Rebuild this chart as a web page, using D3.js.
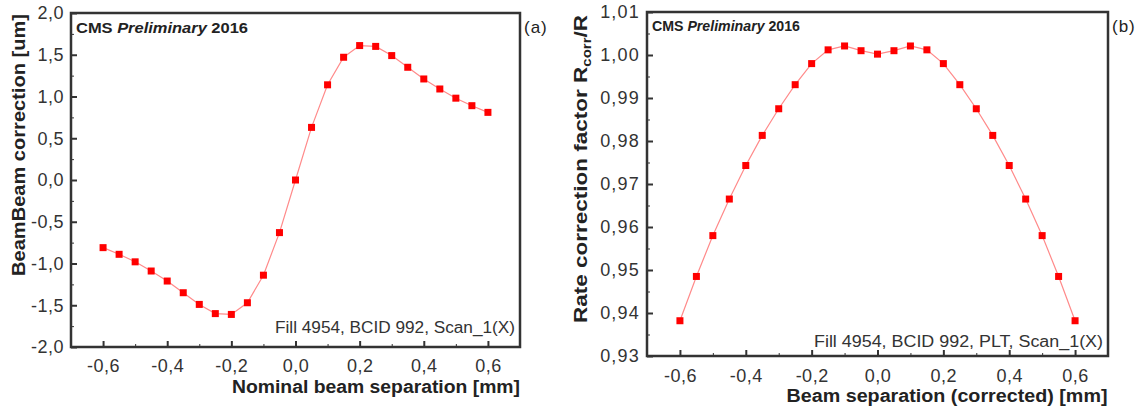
<!DOCTYPE html>
<html>
  <head>
    <meta charset="utf-8">
    <style>
      body { margin: 0; background: #fff; }
      svg { font-family: "Liberation Sans", Arial, sans-serif; }
      .tick text { fill: #333; font-size: 18px; letter-spacing: 0.5px; }
      .axis path, .axis line { stroke: #333; }
      .title { font-weight: bold; font-size: 18px; fill: #222; }
    </style>
  </head>
  <body>
    <script src="https://d3js.org/d3.v7.min.js"></script>
    <script>
      // separation values (mm), same for both panels
      const separation = [-0.6, -0.55, -0.5, -0.45, -0.4, -0.35, -0.3, -0.25, -0.2, -0.15, -0.1, -0.05,
        0, 0.05, 0.1, 0.15, 0.2, 0.25, 0.3, 0.35, 0.4, 0.45, 0.5, 0.55, 0.6]
      // panel (a): beam-beam correction [um]
      const bbCorrection = [-0.81, -0.89, -0.98, -1.09, -1.21, -1.35, -1.49, -1.6, -1.61, -1.47, -1.14, -0.63,
        0, 0.63, 1.14, 1.47, 1.61, 1.6, 1.49, 1.35, 1.21, 1.09, 0.98, 0.89, 0.81]
      // panel (b): rate correction factor
      const rateFactor = [0.9382, 0.9485, 0.958, 0.9665, 0.9743, 0.9813, 0.9875, 0.9931, 0.998, 1.0012, 1.0021, 1.001,
        1.0002, 1.001, 1.0021, 1.0012, 0.998, 0.9931, 0.9875, 0.9813, 0.9743, 0.9665, 0.958, 0.9485, 0.9382]

      const xTicks = [-0.6, -0.4, -0.2, 0, 0.2, 0.4, 0.6]
      const xMinor = [-0.5, -0.3, -0.1, 0.1, 0.3, 0.5]
      const yTicksA = [-2, -1.5, -1, -0.5, 0, 0.5, 1, 1.5, 2]
      const yMinorA = [-1.75, -1.25, -0.75, -0.25, 0.25, 0.75, 1.25, 1.75]
      const yTicksB = [0.93, 0.94, 0.95, 0.96, 0.97, 0.98, 0.99, 1.00, 1.01]
      const yMinorB = [0.935, 0.945, 0.955, 0.965, 0.975, 0.985, 0.995, 1.005]

      const svg = d3.select("body").append("svg")
        .attr("width", 1148)
        .attr("height", 412)

      const comma = (n) => (d) => d.toFixed(n).replace(".", ",")

      function drawPanel(p) {
        const g = svg.append("g").attr("transform", "translate(" + p.left + "," + p.top + ")")
        const x = d3.scaleLinear().domain([-0.7, 0.7]).range([0, p.w])
        const y = d3.scaleLinear().domain(p.yDomain).range([p.h, 0])

        // minor ticks
        g.append("g").attr("class", "axis")
          .attr("transform", "translate(0," + p.h + ")")
          .call(d3.axisBottom(x).tickValues(xMinor).tickSize(-3).tickFormat(""))
          .select(".domain").remove()
        g.append("g").attr("class", "axis")
          .call(d3.axisLeft(y).tickValues(p.yMinor).tickSize(-3).tickFormat(""))
          .select(".domain").remove()

        const xAxis = g.append("g").attr("class", "axis")
          .attr("transform", "translate(0," + p.h + ")")
          .call(d3.axisBottom(x).tickValues(xTicks).tickSize(-6).tickSizeOuter(0).tickPadding(p.xPad).tickFormat(comma(1)))
        const yAxis = g.append("g").attr("class", "axis")
          .call(d3.axisLeft(y).tickValues(p.yTicks).tickSize(-6).tickSizeOuter(0).tickPadding(7).tickFormat(comma(p.yDigits)))
        yAxis.selectAll("text").style("letter-spacing", p.ySpacing + "px")
        xAxis.selectAll("line").attr("stroke-width", 2)
        yAxis.selectAll("line").attr("stroke-width", 2)
        svg.selectAll(".domain").attr("stroke", "none")

        // frame
        g.append("rect")
          .attr("width", p.w).attr("height", p.h)
          .attr("fill", "none").attr("stroke", "#333").attr("stroke-width", 2.5)

        const pts = separation.map((s, i) => [s, p.values[i]])
        g.append("path")
          .datum(pts)
          .attr("fill", "none")
          .attr("stroke", "#ff8a8a")
          .attr("stroke-width", 1.2)
          .attr("d", d3.line().x(d => x(d[0])).y(d => y(d[1])))
        g.selectAll("rect.pt")
          .data(pts)
          .enter()
          .append("rect")
            .attr("class", "pt")
            .attr("x", d => x(d[0]) - 3.5)
            .attr("y", d => y(d[1]) - 3.5)
            .attr("width", 7)
            .attr("height", 7)
            .attr("fill", "#ff0000")

        const cms = g.append("text").attr("x", 5).attr("y", p.cmsY)
          .attr("font-size", 14).attr("font-weight", "bold").attr("fill", "#222")
          .attr("textLength", p.cmsLen).attr("lengthAdjust", "spacingAndGlyphs")
        cms.append("tspan").text("CMS ")
        cms.append("tspan").attr("font-style", "italic").text("Preliminary")
        cms.append("tspan").text(" 2016")

        g.append("text")
          .attr("x", p.w - 5).attr("y", p.h - p.infoDy)
          .attr("text-anchor", "end").attr("font-size", 16).attr("fill", "#333")
          .attr("textLength", p.infoLen).attr("lengthAdjust", "spacingAndGlyphs")
          .text(p.info)

        g.append("text")
          .attr("x", p.w + 4).attr("y", 20)
          .attr("font-size", 17).attr("fill", "#222")
          .style("letter-spacing", "1px")
          .text(p.label)

        g.append("text").attr("class", "title")
          .attr("x", p.xTitleX).attr("y", p.h + p.xTitleDy)
          .attr("text-anchor", "middle")
          .attr("textLength", p.xTitleLen).attr("lengthAdjust", "spacingAndGlyphs")
          .text(p.xTitle)

        const yt = g.append("text").attr("class", "title")
          .attr("transform", "translate(" + p.yTitleX + "," + p.yTitleY + ") rotate(-90)")
          .attr("text-anchor", "middle")
          .attr("textLength", p.yTitleLen).attr("lengthAdjust", "spacingAndGlyphs")
        p.yTitle(yt)
      }

      drawPanel({
        left: 71, top: 13, w: 449, h: 334,
        yDomain: [-2, 2], yTicks: yTicksA, yMinor: yMinorA, yDigits: 1, ySpacing: 0.5,
        values: bbCorrection, xPad: 12, cmsY: 20, cmsLen: 172,
        info: "Fill 4954, BCID 992, Scan_1(X)", infoDy: 14, infoLen: 240,
        label: "(a)",
        xTitle: "Nominal beam separation [mm]", xTitleX: 305, xTitleDy: 46, xTitleLen: 288,
        yTitleX: -46, yTitleY: 132, yTitleLen: 262,
        yTitle: (t) => t.text("BeamBeam correction [um]")
      })

      drawPanel({
        left: 647, top: 12, w: 461, h: 344,
        yDomain: [0.93, 1.01], yTicks: yTicksB, yMinor: yMinorB, yDigits: 2, ySpacing: 1.2,
        values: rateFactor, xPad: 13, cmsY: 19, cmsLen: 148,
        info: "Fill 4954, BCID 992, PLT, Scan_1(X)", infoDy: 9, infoLen: 289,
        label: "(b)",
        xTitle: "Beam separation (corrected) [mm]", xTitleX: 300, xTitleDy: 46, xTitleLen: 321,
        yTitleX: -60, yTitleY: 157, yTitleLen: 308,
        yTitle: (t) => {
          t.append("tspan").text("Rate correction factor R")
          t.append("tspan").attr("font-size", 12).attr("dy", 4).text("corr")
          t.append("tspan").attr("dy", -4).text("/R")
        }
      })
    </script>
  </body>
</html>
